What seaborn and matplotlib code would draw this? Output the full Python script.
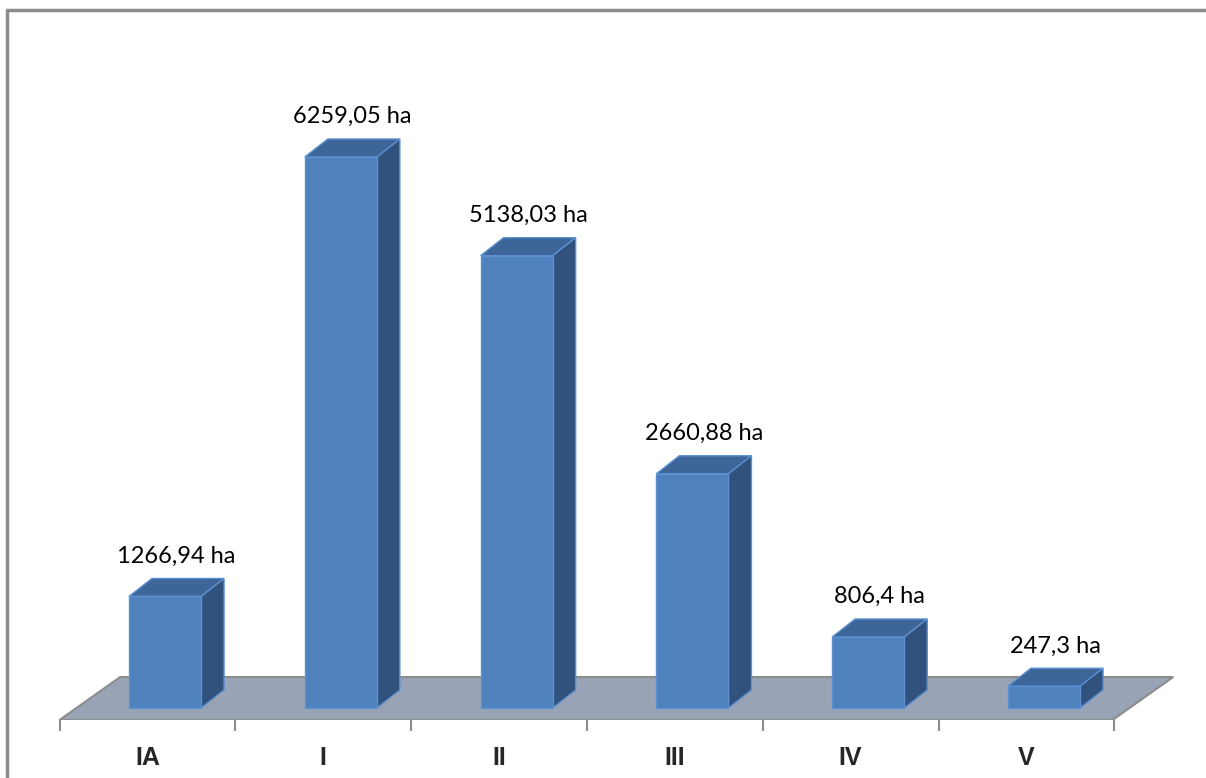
import matplotlib
matplotlib.use("Agg")
import matplotlib.pyplot as plt
from matplotlib.patches import Polygon
from matplotlib.lines import Line2D
import seaborn as sns
import pandas as pd

# Area per class (ha)
categories = ["IA", "I", "II", "III", "IV", "V"]
areas = [1266.94, 6259.05, 5138.03, 2660.88, 806.4, 247.3]
value_labels = [str(v).replace(".", ",") + " ha" for v in areas]

FRONT = "#4F81BD"
TOP = "#3D6598"
SIDE = "#31527C"
EDGE = "#5B90D2"
FLOOR = "#98A4B5"
FLOOR_EDGE = "#8C8C8C"

sns.set_theme(style="white")
plt.rcParams["font.family"] = ["Lato", "DejaVu Sans"]

W, H = 1206, 778
fig = plt.figure(figsize=(W / 100, H / 100), dpi=100)

# axes geometry in pixels: x = 165 + 175.8 * i, y = 708 - 0.08803 * value
PX_CAT = 175.8
PX_VAL = 0.08803
X0 = 165.0
Y0 = 708.0
xlim = (-0.7, 5.8)
ybot_px, ytop_px = 720.0, 60.0
ylim = ((Y0 - ybot_px) / PX_VAL, (Y0 - ytop_px) / PX_VAL)
left_px = X0 + PX_CAT * xlim[0]
right_px = X0 + PX_CAT * xlim[1]
ax = fig.add_axes([left_px / W, 1 - ybot_px / H,
                   (right_px - left_px) / W, (ybot_px - ytop_px) / H])

df = pd.DataFrame({"category": categories, "area": areas})

# depth of the 3D offset, expressed in data units
dx = 23 / PX_CAT
dy = 18 / PX_VAL

# floor plane
fy0 = ylim[0]
fy1 = (Y0 - 677) / PX_VAL
floor = Polygon([(-0.6, fy0), (5.39, fy0), (5.39 + 0.345, fy1), (-0.6 + 0.345, fy1)],
                closed=True, facecolor=FLOOR, edgecolor=FLOOR_EDGE, lw=1.5, zorder=0.5)
ax.add_patch(floor)

bw = 0.41
sns.barplot(data=df, x="category", y="area", color=FRONT, width=bw,
            saturation=1, edgecolor=EDGE, linewidth=1.0, ax=ax, zorder=3)

for i, (v, lab) in enumerate(zip(areas, value_labels)):
    x0, x1 = i - bw / 2, i + bw / 2
    top = Polygon([(x0, v), (x1, v), (x1 + dx, v + dy), (x0 + dx, v + dy)],
                  closed=True, facecolor=TOP, edgecolor=EDGE, lw=1.0, zorder=2.5)
    side = Polygon([(x1, 0), (x1 + dx, dy), (x1 + dx, v + dy), (x1, v)],
                   closed=True, facecolor=SIDE, edgecolor=EDGE, lw=1.0, zorder=2.5)
    ax.add_patch(top)
    ax.add_patch(side)
    ax.annotate(lab, xy=(i + dx / 2, v + dy), xytext=(0, 16), textcoords="offset points",
                ha="center", va="center", fontsize=17, color="black")

ax.set_xlim(*xlim)
ax.set_ylim(*ylim)

ax.set_xticks([i - 0.1 for i in range(len(categories))])
ax.set_xticklabels(categories, fontsize=18, fontweight="bold",
                   family=["Liberation Sans", "DejaVu Sans"])
ax.tick_params(axis="x", which="major", length=0, pad=19)
ax.set_xticks([-0.6 + k for k in range(len(categories) + 1)], minor=True)
ax.tick_params(axis="x", which="minor", length=8, width=1.5, color=FLOOR_EDGE,
               direction="out", bottom=True)
ax.set_yticks([])
ax.set_xlabel("")
ax.set_ylabel("")
for s in ax.spines.values():
    s.set_visible(False)
ax.patch.set_alpha(0)

# chart frame
fig.add_artist(Line2D([7 / W, 7 / W], [0, 1 - 10 / H], color="#8C8C8C", lw=2.5,
                      transform=fig.transFigure))
fig.add_artist(Line2D([7 / W, 1], [1 - 10 / H, 1 - 10 / H], color="#8C8C8C", lw=2.5,
                      transform=fig.transFigure))

fig.savefig("out.png", dpi=100)
